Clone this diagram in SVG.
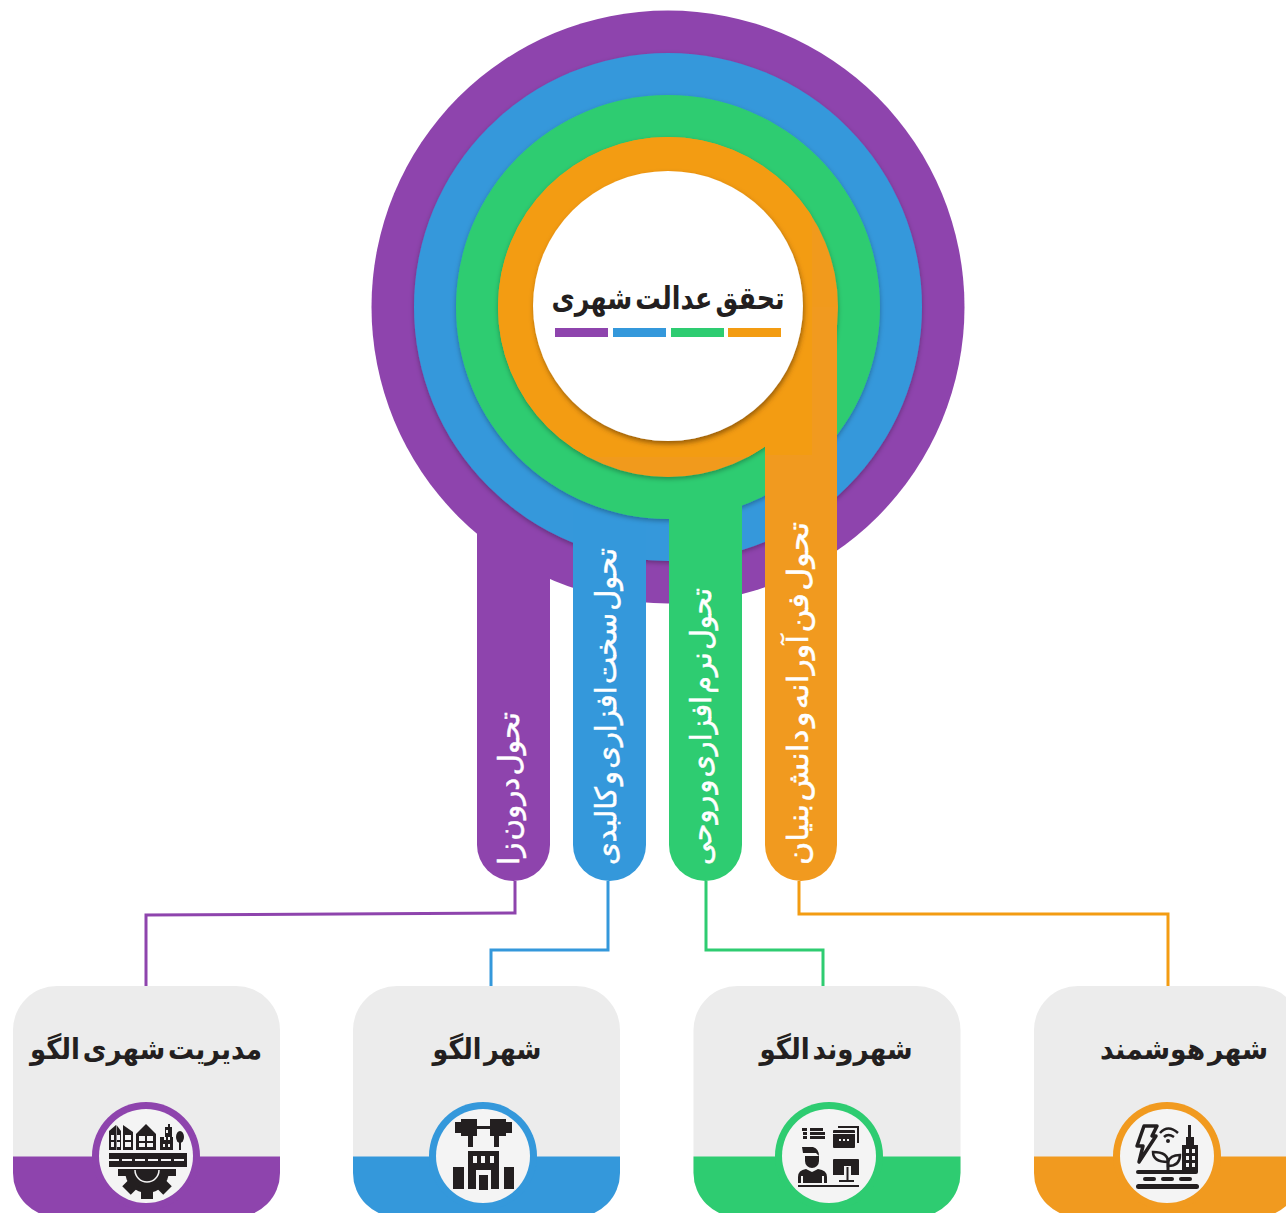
<svg xmlns="http://www.w3.org/2000/svg" width="1286" height="1213" viewBox="0 0 1286 1213">
<style>
text{font-family:"DejaVu Sans","Noto Sans",sans-serif;font-weight:700;direction:rtl;word-spacing:-7px}
.t{fill:#231f20;text-anchor:middle}
.v{fill:#fff;stroke:#fff;stroke-width:.5;text-anchor:middle;font-weight:400}
.d{fill:#231f20}
.w{fill:#f4f4f4}
.cn{fill:none;stroke-width:3}
.card{fill:#ececec}
.disc{fill:#f4f4f4}
</style>
<defs>
<filter id="sh" x="-10%" y="-10%" width="120%" height="120%"><feDropShadow dx="0" dy="2" stdDeviation="2.500" flood-color="#000" flood-opacity=".3"/></filter>
<filter id="shw" x="-10%" y="-10%" width="120%" height="120%"><feDropShadow dx="1" dy="3" stdDeviation="2.500" flood-color="#5a3000" flood-opacity=".6"/></filter>
<clipPath id="oc"><circle cx="668" cy="307" r="170"/><rect x="765" y="307" width="47" height="148"/></clipPath>
<clipPath id="gc"><rect x="100" y="1169" width="100" height="40"/></clipPath>
<path id="cardbg" d="M0,44a44,44 0 0 1 44,-44H223a44,44 0 0 1 44,44V187a44,44 0 0 1 -44,44H44a44,44 0 0 1 -44,-44Z"/>
<path id="band" d="M0,170.500H267V187a44,44 0 0 1 -44,44H44a44,44 0 0 1 -44,-44Z"/>
<path id="tree" d="M455,1122H461V1119H477V1126H490V1129H477V1136H473V1147H468V1136H461V1133H455Z"/>
</defs>

<g id="ring-purple" fill="#8e44ad"><circle cx="668" cy="307" r="296.500"/><path d="M477,400H550V845a36.500,36 0 0 1 -73,0Z"/></g>
<g id="ring-blue" fill="#3498db"><circle cx="668" cy="307" r="254" filter="url(#sh)"/><path d="M573,400H646V845a36.500,36 0 0 1 -73,0Z"/></g>
<g id="ring-green" fill="#2ecc71"><circle cx="668" cy="307" r="212" filter="url(#sh)"/><path d="M669,400H742V845a36.500,36 0 0 1 -73,0Z"/></g>
<g id="ring-orange" fill="#f19a1f"><circle cx="668" cy="307" r="170" filter="url(#sh)"/><path d="M765,307H837V845a36,36 0 0 1 -72,0Z"/></g>
<rect x="498" y="137" width="314" height="320" fill="#f39c12" clip-path="url(#oc)"/>

<g id="center">
<circle cx="668" cy="306" r="135" fill="#fff" filter="url(#shw)"/>
<text class="t" x="668" y="309" font-size="31" textLength="233" lengthAdjust="spacingAndGlyphs">تحقق عدالت شهری</text>
<rect x="555" y="328" width="53" height="9" fill="#8e44ad"/><rect x="613" y="328" width="53" height="9" fill="#3498db"/><rect x="671" y="328" width="53" height="9" fill="#2ecc71"/><rect x="728" y="328" width="53" height="9" fill="#f39c12"/>
</g>

<g id="bar-labels">
<text class="v" transform="translate(519,788.500) rotate(-90)" font-size="29" textLength="153" lengthAdjust="spacingAndGlyphs">تحول درون زا</text>
<text class="v" transform="translate(616,706.500) rotate(-90)" font-size="29" textLength="317" lengthAdjust="spacingAndGlyphs">تحول سخت افزاری و کالبدی</text>
<text class="v" transform="translate(711,726.500) rotate(-90)" font-size="29" textLength="277" lengthAdjust="spacingAndGlyphs">تحول نرم افزاری و روحی</text>
<text class="v" transform="translate(808,693.500) rotate(-90)" font-size="29" textLength="343" lengthAdjust="spacingAndGlyphs">تحول فن آورانه و دانش بنیان</text>
</g>

<g id="connectors">
<path class="cn" stroke="#8e44ad" d="M515,881V913L146,915V986"/>
<path class="cn" stroke="#3498db" d="M608,881V950H491V986"/>
<path class="cn" stroke="#2ecc71" d="M706,881V950H823V986"/>
<path class="cn" stroke="#f39c12" d="M799,881V914H1168V986"/>
</g>

<g id="card-modiriat">
<use href="#cardbg" x="13" y="986" class="card"/><use href="#band" x="13" y="986" fill="#8e44ad"/>
<circle cx="146" cy="1156" r="54" fill="#8e44ad"/><circle cx="146" cy="1156" r="47" class="disc"/>
<text class="t" x="146" y="1059" font-size="29" textLength="232" lengthAdjust="spacingAndGlyphs">مدیریت شهری الگو</text>
<g class="d">
<path d="M109,1131L116,1125V1150H109Z"/><path d="M116.500,1125L121,1131V1150H116.500Z"/>
<path d="M123,1125L133,1132V1150H123Z"/>
<path d="M136,1134L146,1124L156,1134V1150H136Z"/>
<path d="M160,1137H165V1127H168V1124H170V1127H172V1137H173V1150H160Z"/>
<ellipse cx="180" cy="1137" rx="4" ry="6"/><rect x="179" y="1142" width="2" height="8"/>
<rect x="109" y="1153" width="78" height="14"/>
</g>
<g class="w">
<rect x="111" y="1135" width="3" height="5"/><rect x="111" y="1142" width="3" height="5"/><rect x="117" y="1135" width="3" height="5"/><rect x="117" y="1142" width="3" height="5"/>
<rect x="125" y="1135" width="6" height="5"/><rect x="125" y="1142" width="6" height="5"/>
<rect x="139" y="1136" width="6" height="5"/><rect x="147" y="1136" width="6" height="5"/><rect x="139" y="1143" width="6" height="4"/><rect x="147" y="1143" width="6" height="4"/>
<rect x="164" y="1137" width="2" height="3"/><rect x="168" y="1137" width="2" height="3"/><rect x="163" y="1144" width="2" height="3"/><rect x="168" y="1144" width="2" height="3"/>
<rect x="166" y="1130" width="2" height="3"/>
</g>
<path d="M109,1160H187" stroke="#f4f4f4" stroke-width="2" stroke-dasharray="10 3" fill="none"/>
<g clip-path="url(#gc)" class="d">
<circle cx="147" cy="1171" r="22"/>
<g fill="#231f20">
<rect x="141" y="1141" width="12" height="58"/>
<rect x="141" y="1141" width="12" height="58" transform="rotate(45 147 1170)"/>
<rect x="141" y="1141" width="12" height="58" transform="rotate(90 147 1170)"/>
<rect x="141" y="1141" width="12" height="58" transform="rotate(135 147 1170)"/>
</g>
<path d="M135,1170a12,12 0 0 0 24,0" fill="none" stroke="#f4f4f4" stroke-width="1.500"/>
</g>
</g>

<g id="card-shahr">
<use href="#cardbg" x="353" y="986" class="card"/><use href="#band" x="353" y="986" fill="#3498db"/>
<circle cx="483" cy="1156" r="54" fill="#3498db"/><circle cx="483" cy="1156" r="47" class="disc"/>
<text class="t" x="487" y="1059" font-size="29" textLength="109" lengthAdjust="spacingAndGlyphs">شهر الگو</text>
<g class="d">
<use href="#tree"/><use href="#tree" transform="matrix(-1 0 0 1 967 0)"/>
<path d="M468,1151H499V1189H491V1170H476V1189H468Z"/>
<rect x="479" y="1175" width="9" height="15"/>
<rect x="453" y="1167" width="11" height="22"/><rect x="504" y="1167" width="10" height="22"/>
</g>
<g class="w"><rect x="473" y="1156" width="4" height="7"/><rect x="481" y="1156" width="4" height="7"/><rect x="490" y="1156" width="4" height="7"/></g>
</g>

<g id="card-shahrvand">
<use href="#cardbg" x="693.500" y="986" class="card"/><use href="#band" x="693.500" y="986" fill="#2ecc71"/>
<circle cx="829" cy="1156" r="54" fill="#2ecc71"/><circle cx="829" cy="1156" r="47" class="disc"/>
<text class="t" x="836" y="1059" font-size="29" textLength="153" lengthAdjust="spacingAndGlyphs">شهروند الگو</text>
<g class="d">
<rect x="802" y="1128" width="5" height="3"/><rect x="810" y="1128" width="13" height="3"/>
<rect x="803" y="1132" width="4" height="3"/><rect x="810" y="1132" width="15" height="3"/>
<rect x="803" y="1136" width="4" height="3"/><rect x="810" y="1136" width="15" height="3"/>
<rect x="833" y="1130" width="22" height="18" rx="1"/>
<path d="M838,1127H858V1143" fill="none" stroke="#231f20" stroke-width="2"/>
<path d="M802,1147H813Q819,1149 819,1156L816,1153H803Z"/>
<path d="M805,1156H819V1161A7,7 0 0 1 805,1161Z"/>
<path d="M798,1183V1177Q798,1170 806,1169L812,1172L818,1169Q827,1170 827,1177V1183H824V1176H822V1183H803V1176H801V1183Z"/>
<rect x="798" y="1185" width="61" height="2"/>
<path d="M833,1160Q833,1159 834,1159H858Q859,1159 859,1160V1175H851V1166H844V1175H833Z"/>
<rect x="846.500" y="1167" width="2" height="14"/>
<rect x="839" y="1180" width="15" height="2"/>
</g>
<g class="w"><rect x="833" y="1133" width="22" height="1"/><rect x="839" y="1139" width="2" height="2"/><rect x="843" y="1139" width="2" height="2"/><rect x="847" y="1139" width="2" height="2"/></g>
</g>

<g id="card-hooshmand">
<use href="#cardbg" x="1034" y="986" class="card"/><use href="#band" x="1034" y="986" fill="#f19a1f"/>
<circle cx="1167" cy="1156" r="54" fill="#f19a1f"/><circle cx="1167" cy="1156" r="47" class="disc"/>
<text class="t" x="1184" y="1059" font-size="29" textLength="168" lengthAdjust="spacingAndGlyphs">شهر هوشمند</text>
<g class="d">
<path d="M1144,1126H1157L1152,1136H1156L1139,1162L1143,1146H1137Z" fill="none" stroke="#231f20" stroke-width="3.500" stroke-linejoin="round"/>
<path d="M1160,1133Q1168,1124 1178,1133M1164,1137Q1168,1133 1174,1137" fill="none" stroke="#231f20" stroke-width="2.500"/>
<circle cx="1168" cy="1141" r="2"/>
<path d="M1182,1172V1145H1186V1137H1188V1125H1191V1137H1194V1145H1198V1172Z"/>
<path d="M1168,1172V1159" fill="none" stroke="#231f20" stroke-width="3"/>
<path d="M1168,1162Q1168,1152 1153,1152Q1153,1162 1168,1162ZM1168,1162Q1170,1155 1180,1155Q1180,1166 1168,1166Z" fill="none" stroke="#231f20" stroke-width="2.500"/>
<rect x="1136" y="1170" width="62" height="4" rx="2"/>
<rect x="1143" y="1177" width="13" height="4" rx="2"/><rect x="1161" y="1177" width="13" height="4" rx="2"/><rect x="1179" y="1177" width="13" height="4" rx="2"/>
<rect x="1136" y="1184" width="63" height="5" rx="2.500"/>
</g>
<g class="w"><rect x="1186" y="1149" width="3" height="4"/><rect x="1192" y="1149" width="3" height="4"/><rect x="1186" y="1156" width="3" height="4"/><rect x="1192" y="1156" width="3" height="4"/><rect x="1186" y="1163" width="3" height="4"/><rect x="1192" y="1163" width="3" height="4"/></g>
</g>
</svg>
